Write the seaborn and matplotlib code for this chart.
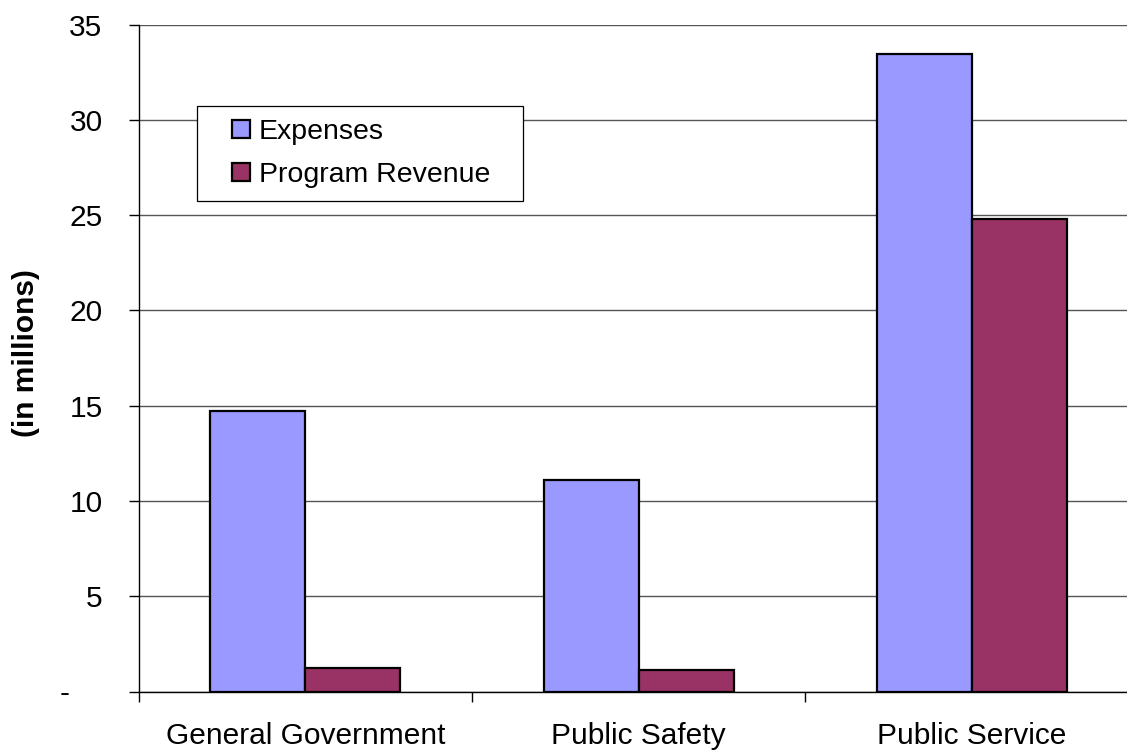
import matplotlib
matplotlib.use("Agg")
import matplotlib.pyplot as plt
import seaborn as sns
import pandas as pd
from matplotlib.lines import Line2D

categories = ["General Government", "Public Safety", "Public Service"]
expenses = [14.72, 11.1, 33.45]
program_revenue = [1.25, 1.13, 24.77]
series_names = ["Expenses", "Program Revenue"]
colors = ["#9999FF", "#993366"]
yticks = [0, 5, 10, 15, 20, 25, 30, 35]
ytick_labels = ["-    ", "5", "10", "15", "20", "25", "30", "35"]

df = pd.DataFrame({
    "category": categories * 2,
    "series": [series_names[0]] * 3 + [series_names[1]] * 3,
    "value": expenses + program_revenue,
})

sns.set_style("white")
plt.rcParams["font.family"] = ["Liberation Sans", "DejaVu Sans"]
plt.rcParams["text.color"] = "black"
plt.rcParams["xtick.color"] = "black"
plt.rcParams["ytick.color"] = "black"
plt.rcParams["axes.labelcolor"] = "black"

W, H = 1127, 750
fig = plt.figure(figsize=(W / 100, H / 100), dpi=100)
left, right, top, bottom = 138.7, 1138.7, 24.5, 691.5
ax = fig.add_axes([left / W, 1 - bottom / H, (right - left) / W, (bottom - top) / H])

sns.barplot(data=df, x="category", y="value", hue="series", order=categories,
            hue_order=series_names, palette=colors, width=0.57, gap=0,
            edgecolor="black", linewidth=1.6, saturation=1, ax=ax, legend=False,
            zorder=3)

ax.set_xlim(-0.5, 2.5)
ax.set_ylim(0, 35)
ax.set_yticks(yticks)
ax.set_yticklabels(ytick_labels, fontsize=21.5)
ax.yaxis.grid(True, color="#555555", linewidth=1.0, zorder=0)
ax.set_axisbelow(True)
ax.tick_params(axis="y", length=7, width=1, color="black", pad=19, direction="out", left=True)

ax.set_xticks(range(3))
ax.set_xticklabels(categories, fontsize=21.5)
ax.set_xticks([-0.5, 0.5, 1.5, 2.5], minor=True)
ax.tick_params(axis="x", which="major", length=0, pad=22)
ax.tick_params(axis="x", which="minor", length=7, width=1, color="black", direction="out", bottom=True)

for s in ["top", "right"]:
    ax.spines[s].set_visible(False)
for s in ["left", "bottom"]:
    ax.spines[s].set_color("black")
    ax.spines[s].set_linewidth(1.0)
    ax.spines[s].set_zorder(4)

ax.set_xlabel("")
ax.set_ylabel("(in millions)", fontsize=21.5, fontweight="bold", labelpad=14)
ax.yaxis.label.set_y(0.5 + 5 / 667)

handles = [Line2D([], [], linestyle="none", marker="s", markersize=13.5,
                  markerfacecolor=c, markeredgecolor="black", markeredgewidth=1.6)
           for c in colors]
fs = 20.5
ax_w = right - left
ax_h = bottom - top
leg = ax.legend(handles, series_names, loc="upper left",
                bbox_to_anchor=((197 - left) / ax_w, (bottom - 106) / ax_h,
                                (523 - 197) / ax_w, 0),
                mode="expand", fontsize=fs, frameon=True, fancybox=False,
                framealpha=1, edgecolor="black", handlelength=2.18,
                handletextpad=-0.48, borderpad=0.47, labelspacing=0.57,
                borderaxespad=0)
leg.get_frame().set_linewidth(0.9)
leg.set_zorder(5)

fig.savefig("out.png", dpi=100)
